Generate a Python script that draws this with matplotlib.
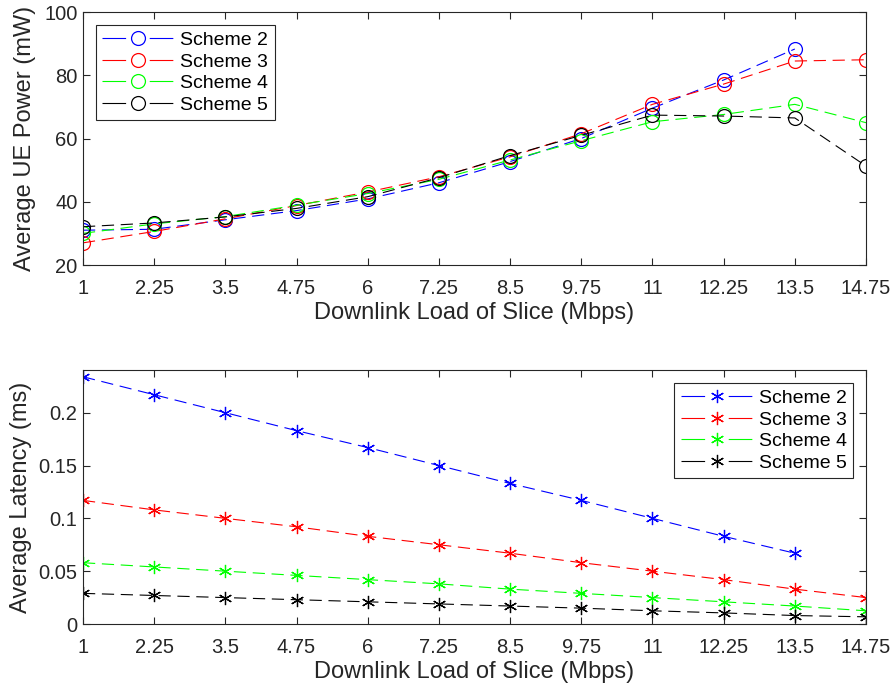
import numpy as np
import matplotlib
matplotlib.use("Agg")
from matplotlib import pyplot as plt

plt.rcParams['font.family'] = ['Liberation Sans', 'DejaVu Sans']
plt.rcParams['font.size'] = 14.5

load = [1, 2.25, 3.5, 4.75, 6, 7.25, 8.5, 9.75, 11, 12.25, 13.5, 14.75]
xticklabels = ["1", "2.25", "3.5", "4.75", "6", "7.25", "8.5", "9.75", "11", "12.25", "13.5", "14.75"]
names = ["Scheme 2", "Scheme 3", "Scheme 4", "Scheme 5"]

# average UE power (mW), scheme 2 has no point at 14.75
power_s2 = [31.0, 31.3, 34.3, 37.2, 40.9, 46.0, 52.7, 60.0, 69.6, 78.5, 88.3]
power_s3 = [27.0, 30.6, 34.6, 38.8, 43.1, 47.9, 54.2, 61.5, 70.8, 77.2, 84.5, 84.9]
power_s4 = [30.0, 33.0, 35.3, 38.9, 42.6, 47.1, 53.2, 59.3, 65.3, 67.6, 70.8, 65.0]
power_s5 = [32.1, 33.3, 35.2, 37.9, 41.6, 47.6, 54.6, 61.0, 67.4, 67.1, 66.5, 51.3]

# average latency (ms)
lat_s2 = [0.234, 0.217, 0.200, 0.183, 0.167, 0.150, 0.133, 0.117, 0.100, 0.083, 0.067]
lat_s3 = [0.117, 0.108, 0.100, 0.092, 0.083, 0.075, 0.067, 0.058, 0.050, 0.042, 0.033, 0.025]
lat_s4 = [0.058, 0.054, 0.050, 0.046, 0.042, 0.038, 0.033, 0.029, 0.025, 0.021, 0.017, 0.0125]
lat_s5 = [0.029, 0.027, 0.025, 0.023, 0.021, 0.019, 0.017, 0.015, 0.0125, 0.0105, 0.008, 0.0068]

colors = ["#0000ff", "#ff0000", "#00ff00", "#000000"]
axcol = "#262626"
lw = 0.8

fig = plt.figure(figsize=(8.96, 6.96), dpi=100)
ax1 = fig.add_axes([83/896, 1-265/696, (866-83)/896, (265-12)/696])
ax2 = fig.add_axes([83/896, 1-624/696, (866-83)/896, (624-370)/696])

powers = [power_s2, power_s3, power_s4, power_s5]
lats = [lat_s2, lat_s3, lat_s4, lat_s5]

for p, c, n in zip(powers, colors, names):
    ax1.plot(load[:len(p)], p, color=c, dashes=(11, 6), lw=lw, marker='o',
             mfc='none', mec=c, ms=10, mew=0.9, label=n)
for l, c, n in zip(lats, colors, names):
    ax2.plot(load[:len(l)], l, color=c, dashes=(11, 6), lw=lw, marker=(6, 2, 0),
             mec=c, ms=9.5, mew=0.9, label=n)

for ax in [ax1, ax2]:
    ax.set_xlim(1, 14.75)
    ax.set_xticks(load)
    ax.set_xticklabels(xticklabels)
    ax.tick_params(direction='in', top=True, right=True, length=5,
                   colors=axcol, labelcolor=axcol, width=0.8)
    ax.tick_params(axis='x', pad=10)
    ax.tick_params(axis='y', pad=4)
    for s in ax.spines.values():
        s.set_color(axcol)
        s.set_linewidth(0.8)
    ax.set_xlabel("Downlink Load of Slice (Mbps)", color=axcol, fontsize=17, labelpad=3)

ax1.set_ylim(20, 100)
ax1.set_yticks([20, 40, 60, 80, 100])
ax1.set_ylabel("Average UE Power (mW)", color=axcol, fontsize=17, labelpad=6)
ax2.set_ylim(0, 0.2404)
ax2.set_yticks([0, 0.05, 0.1, 0.15, 0.2])
ax2.set_yticklabels(["0", "0.05", "0.1", "0.15", "0.2"])
ax2.set_ylabel("Average Latency (ms)", color=axcol, fontsize=17, labelpad=5)

for ax, loc in [(ax1, 'upper left'), (ax2, 'upper right')]:
    leg = ax.legend(loc=loc, fancybox=False, framealpha=1, edgecolor=axcol,
                    handlelength=3.7, borderaxespad=0.65, labelspacing=0.2,
                    borderpad=0.35, handletextpad=0.3, fontsize=14)
    leg.get_frame().set_linewidth(0.8)
    # matlab style legend line: dash, marker, dash
    for line in leg.get_lines():
        line.set_dashes((17/lw, 17/lw))

fig.savefig("out.png", dpi=100)
